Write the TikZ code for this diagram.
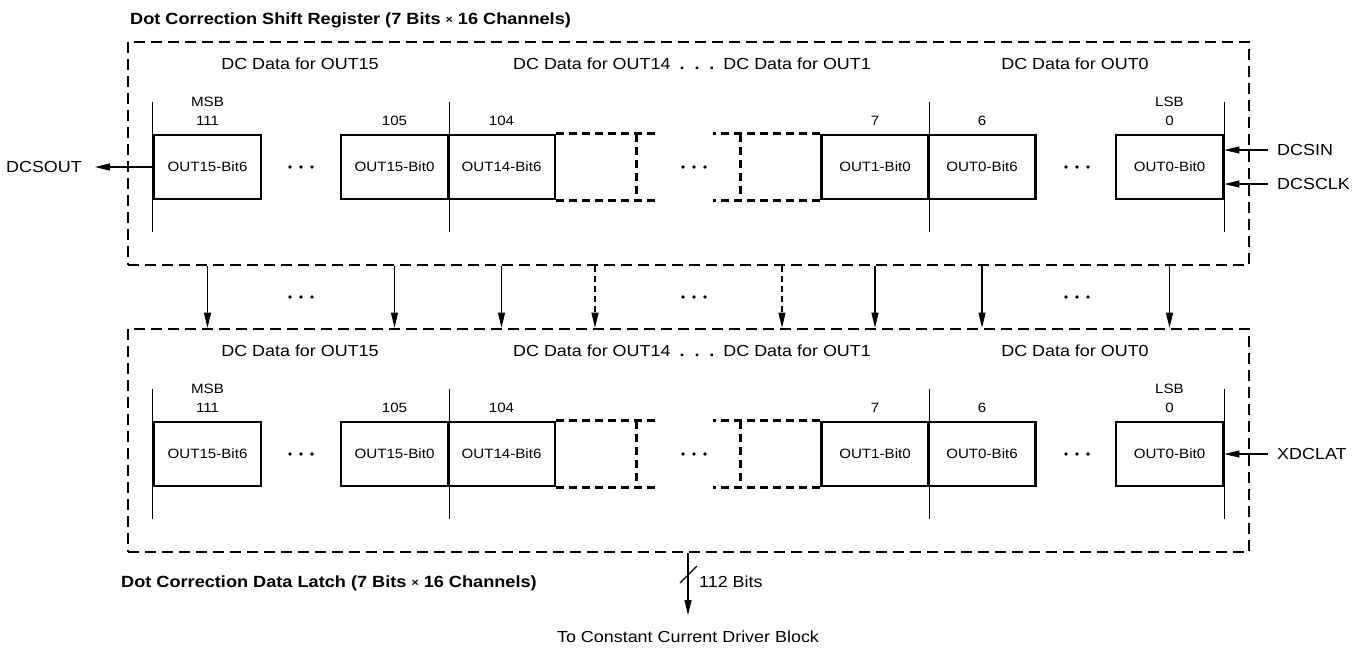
\documentclass[tikz,border=0pt]{standalone}
\usepackage{fontspec}
\setmainfont[FakeStretch=1.12]{Liberation Sans}
\usetikzlibrary{arrows.meta}
\newcommand\lblsize{\fontsize{16}{19}\selectfont}
\newcommand\smallsize{\fontsize{13.5}{16}\selectfont}
\newcommand\titlesize{\fontsize{16.2}{19}\selectfont\bfseries}
\newcommand\mytimes{{\fontsize{11}{11}\selectfont\raisebox{0.5pt}{×}}}
\newcommand\threedots[2]{\fill (#1-11,#2) circle (1.8pt) (#1,#2) circle (1.8pt) (#1+11,#2) circle (1.8pt);}
\begin{document}
\begin{tikzpicture}[x=1pt,y=-1pt,
  dbox/.style={draw, line width=2.6pt, dash pattern=on 11pt off 6pt, inner sep=0},
  regbox/.style={draw, line width=2.6pt, minimum width=107pt, minimum height=64pt, inner sep=0, font=\smallsize},
  vline/.style={line width=1.2pt},
  dext/.style={line width=2.6pt, dash pattern=on 8pt off 5pt},
  lbl/.style={font=\lblsize, inner sep=0},
  sml/.style={font=\smallsize, inner sep=0},
  ttl/.style={font=\titlesize, inner sep=0},
  arr/.style={line width=1.2pt, -{Triangle[length=15pt,width=7pt]}},
  darr/.style={arr, dash pattern=on 6pt off 4pt},
]
\useasboundingbox (0,0) rectangle (1364,649);

\foreach \p/\dy in {t/0, b/287} {
  \begin{scope}[shift={(0,\dy)}]
    \node[dbox, minimum width=1121pt, minimum height=223pt] (\p box) at (688.5,153.5) {};
    \node[lbl] (\p h15) at (300,64) {DC Data for OUT15};
    \node[lbl] (\p hmid) at (692,64) {DC Data for OUT14\hspace{9pt}{\bfseries.\hspace{10pt}.\hspace{10pt}.}\hspace{9pt}DC Data for OUT1};
    \node[lbl] (\p h0) at (1075,64) {DC Data for OUT0};

    \node[regbox] (\p a) at (207.5,167) {OUT15-Bit6};
    \node[regbox] (\p b) at (394.5,167) {OUT15-Bit0};
    \node[regbox] (\p c) at (501.5,167) {OUT14-Bit6};
    \node[regbox] (\p d) at (875,167) {OUT1-Bit0};
    \node[regbox] (\p e) at (982,167) {OUT0-Bit6};
    \node[regbox] (\p f) at (1169.5,167) {OUT0-Bit0};
    \coordinate (\p x1) at (595,167);
    \coordinate (\p x2) at (782,167);

    \draw[vline] ([yshift=32pt]\p a.north west) -- ([yshift=-32pt]\p a.south west);
    \draw[vline] ([yshift=32pt]\p b.north east) -- ([yshift=-32pt]\p b.south east);
    \draw[vline] ([yshift=32pt]\p d.north east) -- ([yshift=-32pt]\p d.south east);
    \draw[vline] ([yshift=32pt]\p f.north east) -- ([yshift=-32pt]\p f.south east);

    \draw[dext] (\p c.north east) -- ++(102,0);
    \draw[dext] (\p c.south east) -- ++(102,0);
    \draw[dext] ([xshift=80pt]\p c.north east) -- ([xshift=80pt]\p c.south east);
    \draw[dext] (\p d.north west) -- ++(-107,0);
    \draw[dext] (\p d.south west) -- ++(-107,0);
    \draw[dext] ([xshift=-80pt]\p d.north west) -- ([xshift=-80pt]\p d.south west);

    \node[sml] (\p msb) at ([yshift=31.5pt]\p a.north) {MSB};
    \node[sml] (\p n111) at ([yshift=13pt]\p a.north) {111};
    \node[sml] (\p n105) at ([yshift=13pt]\p b.north) {105};
    \node[sml] (\p n104) at ([yshift=13pt]\p c.north) {104};
    \node[sml] (\p n7) at ([yshift=13pt]\p d.north) {7};
    \node[sml] (\p n6) at ([yshift=13pt]\p e.north) {6};
    \node[sml] (\p lsb) at ([yshift=31.5pt]\p f.north) {LSB};
    \node[sml] (\p n0) at ([yshift=13pt]\p f.north) {0};

    \threedots{301}{167}
    \threedots{694}{167}
    \threedots{1077}{167}
  \end{scope}
}

% titles
\node[ttl, anchor=base west] (title1) at (130,24) {Dot Correction Shift Register (7 Bits \mytimes{} 16 Channels)};
\node[ttl, anchor=base west] (title2) at (121,587) {Dot Correction Data Latch (7 Bits \mytimes{} 16 Channels)};

% side signals
\node[lbl, anchor=east, inner xsep=13pt] (dcsout) at (95,167) {DCSOUT};
\draw[arr] (ta.west) -- (dcsout.east);
\node[lbl, anchor=west, inner xsep=9pt] (dcsin) at (1268,150) {DCSIN};
\draw[arr] (dcsin.west) -- (dcsin.west -| tf.east);
\node[lbl, anchor=west, inner xsep=9pt] (dcsclk) at (1268,184) {DCSCLK};
\draw[arr] (dcsclk.west) -- (dcsclk.west -| tf.east);
\node[lbl, anchor=west, inner xsep=9pt] (xdclat) at (1268,454) {XDCLAT};
\draw[arr] (xdclat.west) -- (xdclat.west -| bf.east);

% transfers between register and latch
\foreach \n in {a,b,c,d,e,f} {
  \draw[arr] (t\n |- tbox.south) -- (t\n |- bbox.north);
}
\draw[darr] (tx1 |- tbox.south) -- (tx1 |- bbox.north);
\draw[darr] (tx2 |- tbox.south) -- (tx2 |- bbox.north);
\threedots{301}{297}
\threedots{694}{297}
\threedots{1077}{297}

% output
\coordinate (outtop) at (688,552);
\coordinate (outtip) at (688,615);
\draw[arr] (outtop |- bbox.south) -- (outtip);
\coordinate (sl1) at (680,583);
\coordinate (sl2) at (697,566);
\draw[vline] (sl1) -- (sl2);
\node[lbl, anchor=west] (bits) at (699,582) {112 Bits};
\node[lbl] (dest) at (688,637) {To Constant Current Driver Block};
\end{tikzpicture}
\end{document}
